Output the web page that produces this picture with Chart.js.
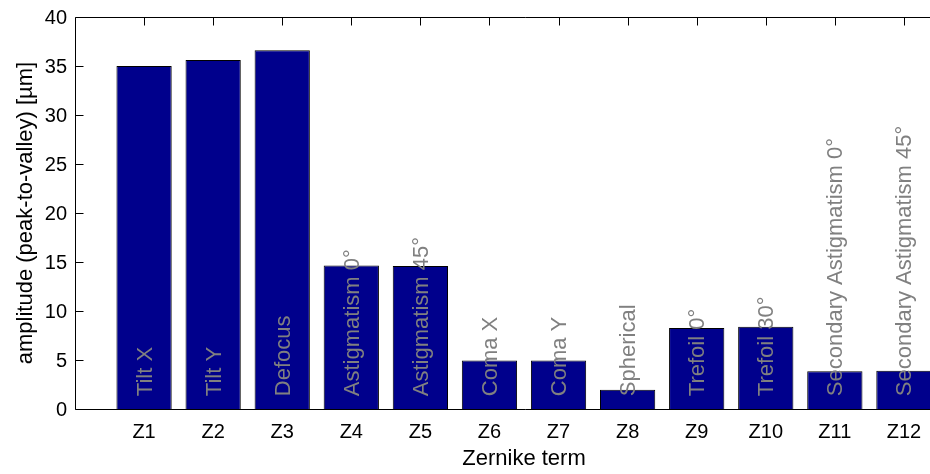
<!DOCTYPE html>
<html>
<head>
<meta charset="utf-8">
<script src="https://cdn.jsdelivr.net/npm/chart.js@4/dist/chart.umd.min.js"></script>
<style>
  html, body { margin: 0; padding: 0; background: #fff; overflow: hidden; }
  #wrap { width: 984px; height: 474px; }
</style>
</head>
<body>
<div id="wrap"><canvas id="c" width="984" height="474"></canvas></div>
<script>
// Zernike terms and their peak-to-valley amplitudes (µm)
const categories = ['Z1', 'Z2', 'Z3', 'Z4', 'Z5', 'Z6', 'Z7', 'Z8', 'Z9', 'Z10', 'Z11', 'Z12'];
const termNames = ['Tilt X', 'Tilt Y', 'Defocus', 'Astigmatism 0°', 'Astigmatism 45°', 'Coma X', 'Coma Y',
  'Spherical', 'Trefoil 0°', 'Trefoil 30°', 'Secondary Astigmatism 0°', 'Secondary Astigmatism 45°'];
const amplitudes = [35.0, 35.6, 36.6, 14.65, 14.6, 4.96, 4.96, 1.97, 8.26, 8.4, 3.84, 3.91];
const yTicks = [0, 5, 10, 15, 20, 25, 30, 35, 40];

const FONT = "'Liberation Sans', Arial, Helvetica, sans-serif";

// Axes frame with inward tick marks, plus rotated term names inside the bars
const framePlugin = {
  id: 'frame',
  afterDatasetsDraw(chart) {
    const { ctx, chartArea: a, scales } = chart;
    const x = scales.x, y = scales.y;
    ctx.save();

    // term names, reading upward from near the baseline
    ctx.font = '22px ' + FONT;
    ctx.fillStyle = '#808080';
    ctx.textAlign = 'left';
    ctx.textBaseline = 'middle';
    termNames.forEach((name, i) => {
      const px = x.getPixelForValue(i + 1) + 1.5;
      const py = y.getPixelForValue(1) - 3;
      ctx.save();
      ctx.translate(px, py);
      ctx.rotate(-Math.PI / 2);
      ctx.fillText(name, 0, 0);
      ctx.restore();
    });

    // box lines
    ctx.strokeStyle = '#000';
    ctx.lineWidth = 1;
    const L = Math.round(a.left) + 0.5, T = Math.round(a.top) + 0.5, B = Math.round(a.bottom) + 0.5;
    ctx.beginPath();
    ctx.moveTo(L, B); ctx.lineTo(L, T); ctx.lineTo(a.right + 2, T);
    ctx.moveTo(L, B); ctx.lineTo(a.right + 2, B);
    ctx.stroke();

    // inward ticks: left axis and top edge
    ctx.beginPath();
    yTicks.forEach(v => {
      const py = Math.round(y.getPixelForValue(v)) + 0.5;
      ctx.moveTo(L, py); ctx.lineTo(L + 8, py);
    });
    categories.forEach((c, i) => {
      const px = Math.round(x.getPixelForValue(i + 1)) + 0.5;
      ctx.moveTo(px, T); ctx.lineTo(px, T + 8);
    });
    ctx.stroke();
    ctx.restore();
  }
};

new Chart(document.getElementById('c'), {
  type: 'bar',
  data: {
    datasets: [{
      data: categories.map((c, i) => ({ x: i + 1, y: amplitudes[i] })),
      backgroundColor: '#00008c',
      borderColor: '#000000',
      borderWidth: 1,
      barPercentage: 0.8,
      categoryPercentage: 1.0
    }]
  },
  options: {
    responsive: false,
    animation: false,
    layout: { padding: { top: 17, right: 2, bottom: 0, left: 0 } },
    plugins: { legend: { display: false }, tooltip: { enabled: false } },
    scales: {
      x: {
        type: 'linear',
        min: 0,
        max: 13,
        offset: false,
        grid: { display: false, drawTicks: false, offset: false },
        border: { display: false },
        ticks: {
          stepSize: 1,
          autoSkip: false,
          maxRotation: 0,
          padding: 11,
          color: '#000',
          font: { family: FONT, size: 20 },
          callback: v => categories[v - 1] ?? ''
        },
        title: {
          display: true,
          text: 'Zernike term',
          color: '#000',
          font: { family: FONT, size: 22 },
          padding: { top: 0, bottom: 2 }
        },
        afterFit(scale) { scale.height = 65; }
      },
      y: {
        min: 0,
        max: 40,
        grid: { display: false, drawTicks: false },
        border: { display: false },
        ticks: {
          stepSize: 5,
          padding: 8,
          labelOffset: 1,
          color: '#000',
          font: { family: FONT, size: 20, lineHeight: 0.6 }
        },
        title: {
          display: true,
          text: 'amplitude (peak-to-valley) [µm]',
          color: '#000',
          font: { family: FONT, size: 22 },
          padding: { top: 13, bottom: 0 }
        },
        afterFit(scale) { scale.width = 75; }
      }
    }
  },
  plugins: [framePlugin]
});
</script>
</body>
</html>
